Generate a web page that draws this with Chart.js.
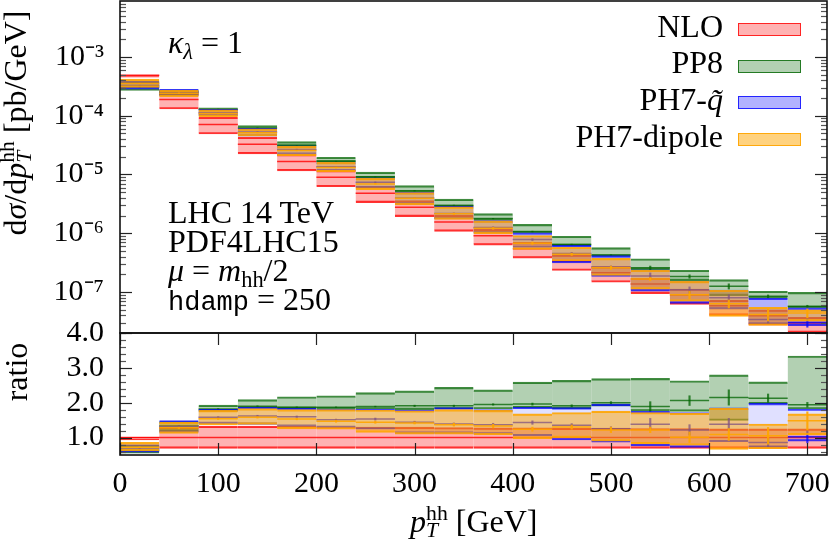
<!DOCTYPE html>
<html>
<head>
<meta charset="utf-8">
<script src="https://cdn.jsdelivr.net/npm/chart.js@4.4.1/dist/chart.umd.min.js"></script>
<style>
  html, body { margin: 0; padding: 0; background: #fff; }
  #wrap { position: relative; width: 830px; height: 542px; overflow: hidden;
          font-family: "Liberation Serif", serif; color: #000; }
  canvas { position: absolute; left: 0; }
  #topChart { top: 0; }
  #ratioChart { top: 320px; }
  .txt { position: absolute; white-space: nowrap; font-size: 32px; line-height: 32px; z-index: 5; }
  .txt i { font-style: italic; }
  .mono { font-family: "Liberation Mono", monospace; font-size: 27px; }
  .sub { font-size: 0.7em; vertical-align: -0.25em; }
  .ss { display: inline-block; font-size: 0.68em; line-height: 0.78; vertical-align: -0.22em; text-align: left; }
  .ss span { display: block; }
  .rot { transform: translate(-50%, -50%) rotate(-90deg); }
  .key { position: absolute; left: 738px; width: 61px; height: 11px; z-index: 5; }
</style>
</head>
<body>
<div id="wrap">
  <canvas id="topChart" width="830" height="336"></canvas>
  <canvas id="ratioChart" width="830" height="222"></canvas>

  <!-- annotations -->
  <div class="txt" style="left:168px; top:26px;"><i>κ</i><span class="sub"><i>λ</i></span> = 1</div>
  <div class="txt" style="left:168px; top:196px;">LHC 14 TeV</div>
  <div class="txt" style="left:168px; top:225px;">PDF4LHC15</div>
  <div class="txt" style="left:168px; top:254px;"><i>μ</i> = <i>m</i><span class="sub">hh</span>/2</div>
  <div class="txt" style="left:168px; top:283px;"><span class="mono">hdamp</span> = 250</div>

  <!-- legend -->
  <div class="txt" style="right:107px; top:10px;">NLO</div>
  <div class="txt" style="right:107px; top:46px;">PP8</div>
  <div class="txt" style="right:107px; top:83px;">PH7-<i>q̃</i></div>
  <div class="txt" style="right:107px; top:120px;">PH7-dipole</div>
  <div class="key" style="top:23px; background:rgba(255,0,0,0.3); border:1.5px solid rgba(255,0,0,0.8);"></div>
  <div class="key" style="top:60px; background:rgba(0,100,0,0.3); border:1.5px solid rgba(0,100,0,0.8);"></div>
  <div class="key" style="top:96px; background:rgba(0,0,255,0.3); border:1.5px solid rgba(0,0,255,0.8);"></div>
  <div class="key" style="top:133px; background:rgba(255,165,0,0.5); border:1.5px solid rgba(255,165,0,0.9);"></div>

  <!-- axis titles -->
  <div class="txt rot" style="left:16px; top:123px;">d<i>σ</i>/d<i>p</i><span class="ss"><span>hh</span><span><i>T</i></span></span> [pb/GeV]</div>
  <div class="txt rot" style="left:16px; top:372px;">ratio</div>
  <div class="txt" style="left:410px; top:505px;"><i>p</i><span class="ss"><span>hh</span><span><i>T</i></span></span> [GeV]</div>
</div>

<script>
// --- binning (GeV) ---
const binLow = [0, 40, 80, 120, 160, 200, 240, 280, 320, 360, 400, 440, 480, 520, 560, 600, 640, 680];
const binWidth = 40;

// NLO central value, dsigma/dpT [pb/GeV]
const nloXsec = [4.9e-4, 1.89e-4, 7.1e-5, 3.26e-5, 1.67e-5, 8.95e-6, 4.8e-6, 2.77e-6, 1.56e-6,
                 9.1e-7, 5.45e-7, 3.36e-7, 2.12e-7, 1.36e-7, 8.9e-8, 5.8e-8, 3.95e-8, 2.95e-8];

// ratios to NLO central: lower edge, central, upper edge, stat. error
const nloLo  = [0.93, 0.69, 0.69, 0.69, 0.69, 0.69, 0.69, 0.69, 0.69, 0.69, 0.69, 0.69, 0.69, 0.69, 0.69, 0.69, 0.69, 0.69];
const nloMid = [1, 1, 1, 1, 1, 1, 1, 1, 1, 1, 1, 1, 1, 1, 1, 1, 1, 1];
const nloHi  = [1.01, 1.30, 1.33, 1.33, 1.32, 1.31, 1.30, 1.30, 1.29, 1.28, 1.28, 1.27, 1.27, 1.26, 1.26, 1.25, 1.25, 1.25];

const pp8Lo  = [0.55, 1.18, 1.75, 1.84, 1.83, 1.82, 1.82, 1.80, 1.82, 1.82, 1.85, 1.83, 1.90, 1.76, 1.75, 1.49, 1.97, 1.82];
const pp8Mid = [0.63, 1.34, 1.82, 1.90, 1.87, 1.87, 1.89, 1.91, 1.91, 1.95, 1.96, 1.91, 2.00, 1.89, 2.06, 2.15, 2.13, 1.94];
const pp8Hi  = [0.78, 1.46, 1.93, 2.09, 2.17, 2.20, 2.29, 2.34, 2.44, 2.37, 2.59, 2.64, 2.69, 2.70, 2.63, 2.80, 2.60, 3.34];
const pp8Err = [0.01, 0.01, 0.01, 0.01, 0.01, 0.01, 0.01, 0.02, 0.02, 0.02, 0.03, 0.03, 0.03, 0.14, 0.14, 0.22, 0.12, 0.07];

const ph7qLo  = [0.58, 1.15, 1.40, 1.38, 1.32, 1.29, 1.24, 1.12, 1.12, 1.10, 1.05, 0.93, 0.87, 0.76, 0.72, 0.88, 0.72, 0.90];
const ph7qMid = [0.67, 1.32, 1.58, 1.62, 1.60, 1.51, 1.53, 1.44, 1.39, 1.37, 1.43, 1.35, 1.25, 1.38, 1.22, 1.38, 0.86, 1.02];
const ph7qHi  = [0.80, 1.49, 1.81, 1.87, 1.84, 1.82, 1.82, 1.79, 1.86, 1.80, 1.87, 1.86, 1.96, 1.75, 1.72, 1.85, 1.98, 1.82];
const ph7qErr = [0.01, 0.02, 0.02, 0.02, 0.02, 0.02, 0.03, 0.03, 0.03, 0.04, 0.05, 0.05, 0.06, 0.17, 0.15, 0.17, 0.12, 0.17];

const ph7dLo  = [0.62, 1.12, 1.36, 1.38, 1.25, 1.24, 1.15, 1.10, 1.10, 1.08, 0.97, 1.00, 0.90, 0.82, 0.78, 0.66, 0.68, 1.08];
const ph7dMid = [0.72, 1.28, 1.54, 1.58, 1.53, 1.47, 1.44, 1.42, 1.37, 1.33, 1.24, 1.30, 1.22, 1.22, 1.01, 1.09, 1.05, 1.48];
const ph7dHi  = [0.86, 1.44, 1.78, 1.83, 1.80, 1.80, 1.79, 1.77, 1.80, 1.78, 1.68, 1.72, 1.76, 1.72, 1.70, 1.84, 1.39, 1.68];
const ph7dErr = [0.01, 0.02, 0.02, 0.02, 0.02, 0.03, 0.03, 0.03, 0.04, 0.05, 0.06, 0.06, 0.08, 0.08, 0.15, 0.17, 0.24, 0.26];

// tick labels
const xTicks = [0, 100, 200, 300, 400, 500, 600, 700];
const xTickLabels = ['0', '100', '200', '300', '400', '500', '600', '700'];
const topTicks = [1e-7, 1e-6, 1e-5, 1e-4, 1e-3];
const topTickLabels = ['10⁻⁷', '10⁻⁶', '10⁻⁵', '10⁻⁴', '10⁻³'];
const ratioTicks = [1, 2, 3, 4];
const ratioTickLabels = ['1.0', '2.0', '3.0', '4.0'];

Chart.defaults.font.family = 'Liberation Serif';
Chart.defaults.color = '#000';

const series = [
    { lo: nloLo,  mid: nloMid,  hi: nloHi,  err: null,
      fill: 'rgba(255,0,0,0.3)',   fillRatio: 'rgba(255,0,0,0.3)',   line: 'rgba(255,0,0,0.8)' },
    { lo: pp8Lo,  mid: pp8Mid,  hi: pp8Hi,  err: pp8Err,
      fill: 'rgba(0,100,0,0.3)',   fillRatio: 'rgba(0,100,0,0.3)',   line: 'rgba(0,100,0,0.75)' },
    { lo: ph7qLo, mid: ph7qMid, hi: ph7qHi, err: ph7qErr,
      fill: 'rgba(0,0,255,0.3)',   fillRatio: 'rgba(0,0,255,0.12)',  line: 'rgba(0,0,255,0.75)' },
    { lo: ph7dLo, mid: ph7dMid, hi: ph7dHi, err: ph7dErr,
      fill: 'rgba(255,165,0,0.5)', fillRatio: 'rgba(255,165,0,0.5)', line: 'rgba(255,165,0,0.9)' }
];

// band + central line + error bar for every series; norm = NLO xsec (top) or 1 (ratio)
function buildDatasets(isRatio) {
    const ds = [];
    let order = 100;
    const norm = i => isRatio ? 1 : nloXsec[i];
    series.forEach(s => {
        ds.push({
            type: 'bar',
            data: binLow.map((lo, i) => ({ x: lo + binWidth / 2, y: [s.lo[i] * norm(i), s.hi[i] * norm(i)] })),
            backgroundColor: isRatio ? s.fillRatio : s.fill,
            borderColor: s.line,
            borderWidth: { top: 1.5, bottom: 1.5, left: 0, right: 0 },
            borderSkipped: false,
            grouped: false,
            barPercentage: 1,
            categoryPercentage: 1,
            clip: 0,
            order: order--
        });
        ds.push({
            type: 'line',
            data: binLow.flatMap((lo, i) => [
                { x: lo, y: s.mid[i] * norm(i) },
                { x: lo + binWidth, y: s.mid[i] * norm(i) },
                { x: lo + binWidth, y: null }
            ]),
            borderColor: s.line,
            borderWidth: 1.5,
            pointRadius: 0,
            fill: false,
            spanGaps: false,
            clip: 0,
            order: order--
        });
        if (s.err) {
            ds.push({
                type: 'bar',
                data: binLow.map((lo, i) => ({
                    x: lo + binWidth / 2,
                    y: [(s.mid[i] - s.err[i]) * norm(i), (s.mid[i] + s.err[i]) * norm(i)]
                })),
                backgroundColor: s.line,
                barThickness: 1.5,
                grouped: false,
                clip: 0,
                order: order--
            });
        }
    });
    return ds;
}

// frame + inward ticks, gnuplot style
const frameTicks = {
    id: 'frameTicks',
    afterDatasetsDraw(chart, args, opts) {
        const { ctx, chartArea: a } = chart;
        const ys = chart.scales.y, xs = chart.scales.x;
        const seg = (x1, y1, x2, y2) => { ctx.beginPath(); ctx.moveTo(x1, y1); ctx.lineTo(x2, y2); ctx.stroke(); };
        ctx.save();
        ctx.lineWidth = 1.2;
        ctx.strokeStyle = '#555';
        opts.yMinor.forEach(v => {
            const p = Math.round(ys.getPixelForValue(v)) + 0.5;
            seg(a.left, p, a.left + 6, p); seg(a.right, p, a.right - 6, p);
        });
        ctx.strokeStyle = '#222';
        opts.yMajor.forEach(v => {
            const p = Math.round(ys.getPixelForValue(v)) + 0.5;
            seg(a.left, p, a.left + 12, p); seg(a.right, p, a.right - 12, p);
        });
        (opts.xMajor || []).forEach(v => {
            const p = Math.round(xs.getPixelForValue(v)) + 0.5;
            seg(p, a.bottom, p, a.bottom - 12); seg(p, a.top, p, a.top + 12);
        });
        ctx.lineWidth = 1.6;
        ctx.strokeStyle = '#111';
        ctx.strokeRect(a.left, a.top, a.right - a.left, a.bottom - a.top);
        ctx.restore();
    }
};

// minor tick positions
const logMinor = [], logMajor = [];
for (let e = -8; e <= -3; e++) {
    for (let m = 1; m <= 9; m++) {
        const v = m * Math.pow(10, e);
        if (v < 2e-8 || v > 9e-3) continue;
        (m === 1 ? logMajor : logMinor).push(v);
    }
}
const linMinor = [];
for (let k = 3; k <= 19; k++) { if (k % 5 !== 0) linMinor.push(k * 0.2); }

// fixed y-axis width, and no extra room for half tick labels
const fixY = s => { s.width = 120; s.paddingTop = 0; s.paddingBottom = 0; };
const tickFont = { family: 'Liberation Serif', size: 30 };

new Chart(document.getElementById('topChart'), {
    type: 'bar',
    data: { datasets: buildDatasets(false) },
    options: {
        responsive: false,
        animation: false,
        layout: { padding: { top: 1, right: 3, bottom: 3, left: 0 } },
        plugins: {
            legend: { display: false },
            tooltip: { enabled: false },
            frameTicks: { yMajor: logMajor, yMinor: logMinor }
        },
        scales: {
            x: { type: 'linear', min: 0, max: 720, offset: false, display: false },
            y: {
                type: 'logarithmic', min: 2e-8, max: 9e-3,
                grid: { display: false, drawTicks: false },
                border: { display: false },
                afterFit: fixY,
                afterBuildTicks: s => { s.ticks = topTicks.map(v => ({ value: v })); },
                ticks: {
                    font: tickFont, padding: 16, autoSkip: false,
                    callback: v => topTickLabels[topTicks.indexOf(v)]
                }
            }
        }
    },
    plugins: [frameTicks]
});

new Chart(document.getElementById('ratioChart'), {
    type: 'bar',
    data: { datasets: buildDatasets(true) },
    options: {
        responsive: false,
        animation: false,
        layout: { padding: { top: 13, right: 3, bottom: 0, left: 0 } },
        plugins: {
            legend: { display: false },
            tooltip: { enabled: false },
            frameTicks: { yMajor: ratioTicks, yMinor: linMinor, xMajor: xTicks }
        },
        scales: {
            x: {
                type: 'linear', min: 0, max: 720, offset: false,
                grid: { display: false, drawTicks: false },
                border: { display: false },
                afterFit: s => { s.height = 87; s.paddingLeft = 0; s.paddingRight = 0; },
                afterBuildTicks: s => { s.ticks = xTicks.map(v => ({ value: v })); },
                ticks: {
                    font: tickFont, padding: 11, autoSkip: false, maxRotation: 0,
                    callback: v => xTickLabels[xTicks.indexOf(v)]
                }
            },
            y: {
                type: 'linear', min: 0.5, max: 4.0,
                grid: { display: false, drawTicks: false },
                border: { display: false },
                afterFit: fixY,
                afterBuildTicks: s => { s.ticks = ratioTicks.map(v => ({ value: v })); },
                ticks: {
                    font: tickFont, padding: 16, autoSkip: false,
                    callback: v => ratioTickLabels[ratioTicks.indexOf(v)]
                }
            }
        }
    },
    plugins: [frameTicks]
});
</script>
</body>
</html>
